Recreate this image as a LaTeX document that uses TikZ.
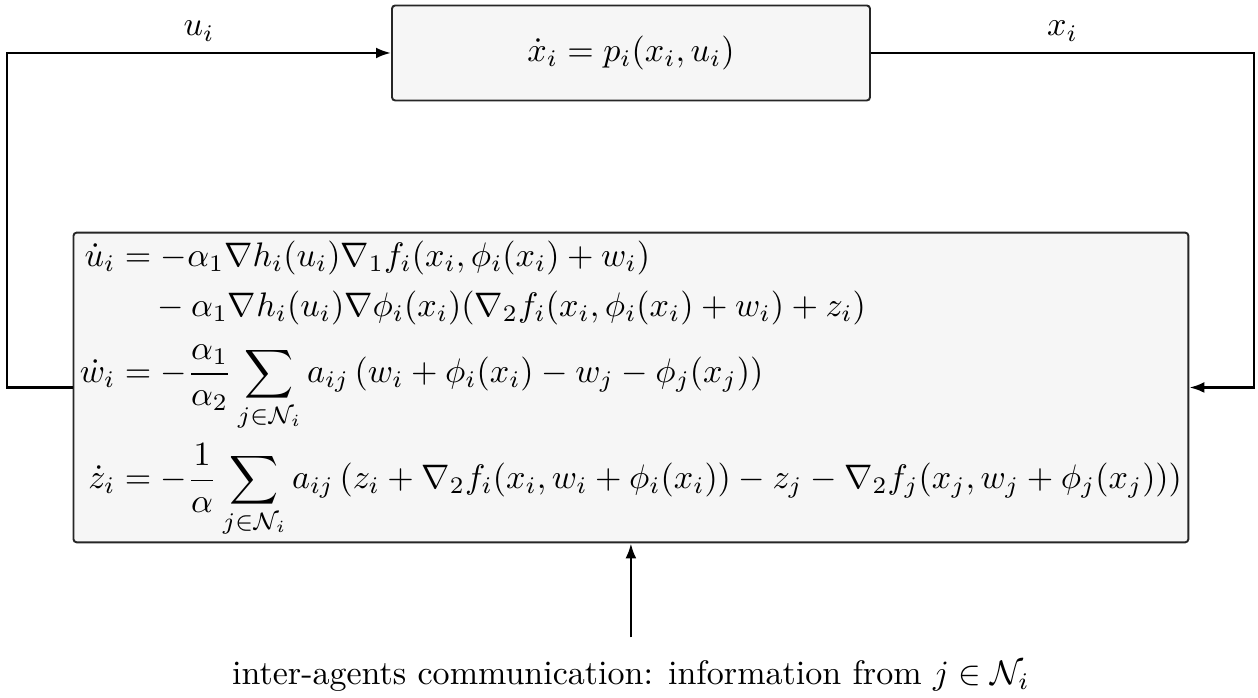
\RequirePackage{fix-cm}
\documentclass[tikz,border=0pt]{standalone}
\usepackage{amsmath,amsthm,amsfonts,amssymb}
\usepackage{xcolor}
\usepackage{tikz}
\usetikzlibrary{arrows.meta}
\definecolor{boxgray}{RGB}{246,246,246}

\begin{document}
\begin{tikzpicture}[
    every node/.style={font=\fontsize{10.65pt}{12.8pt}\selectfont},
    blk/.style={shape=rectangle, draw=black!85, fill=boxgray, rounded corners=1pt, semithick},
    sig/.style={thick,-{Latex[length=4.7pt,width=3.4pt]}}]
    \useasboundingbox (0,0) rectangle (13.838,7.678);
    \node[blk, minimum width=5.258cm, minimum height=1.045cm] (sys) at (6.941,7.095) {$\dot{x}_i = p_i(x_i,u_i)$};
    \node[blk, inner xsep=2pt, inner ysep=1.5pt] (ctrl) at (6.94,3.4155) {$\begin{aligned}
      \dot{u}_i &= -\alpha_1 \nabla h_i(u_i) \nabla_1 f_i(x_i,\phi_i(x_i)+w_i) \\
      &\quad{} - \alpha_1 \nabla h_i(u_i) \nabla \phi_i(x_i) (\nabla_2 f_i(x_i,\phi_i(x_i)+w_i) + z_i) \\[1pt]
      \dot{w}_i &= -\frac{\alpha_1}{\alpha_2} \sum_{j\in\mathcal{N}_i} a_{ij}\,(w_i + \phi_i(x_i) - w_j - \phi_j(x_j)) \\
      \dot{z}_i &= -\frac{1}{\alpha} \sum_{j\in\mathcal{N}_i} a_{ij}\,(z_i + \nabla_2 f_i(x_i,w_i+\phi_i(x_i)) - z_j - \nabla_2 f_j(x_j,w_j+\phi_j(x_j)))
    \end{aligned}$};
    \node[anchor=base, inner ysep=7pt] (info) at (6.94,0.15) {inter-agents communication: information from $j\in\mathcal{N}_i$};
    \coordinate (lft) at (0.077,3.4155);
    \coordinate (rgt) at (13.794,3.4155);
    \draw[sig] (ctrl.west) -- (lft) |- (sys.west) node[pos=0.75, above=0pt] {$u_i$};
    \draw[sig] (sys.east) -| (rgt) node[pos=0.25, above=0pt] {$x_i$} -- (ctrl.east);
    \draw[sig] (info) -- (ctrl);
  \end{tikzpicture}
\end{document}
